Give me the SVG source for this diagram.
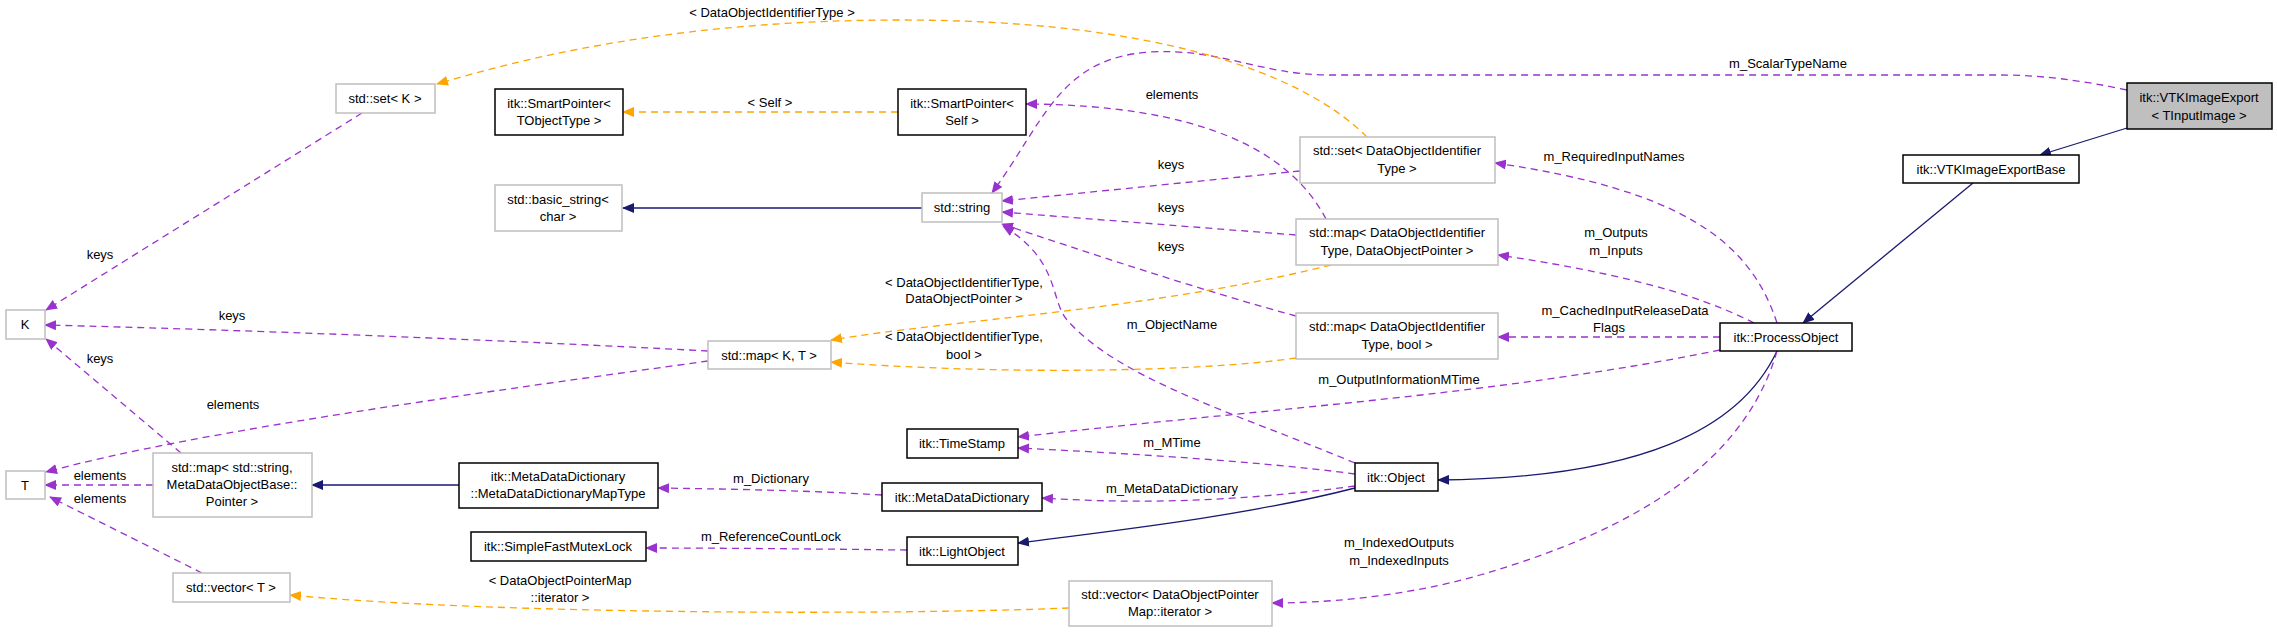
<svg xmlns="http://www.w3.org/2000/svg" width="2277" height="632" viewBox="0 0 2277 632">
<style>
text{font-family:"Liberation Sans",Arial,sans-serif;font-size:13px;fill:#000;text-anchor:middle}
.n rect{fill:#fff;stroke:#000;stroke-width:1.5}
.g rect{fill:#fff;stroke:#bfbfbf;stroke-width:1.5}
.s path{fill:none;stroke:#191970;stroke-width:1.3}
.p path{fill:none;stroke:#9a32cd;stroke-width:1.3;stroke-dasharray:7,5}
.o path{fill:none;stroke:#ffa500;stroke-width:1.3;stroke-dasharray:7,5}
</style>
<defs>
<marker id="as" markerWidth="12" markerHeight="10" refX="11" refY="5" orient="auto" markerUnits="userSpaceOnUse"><path d="M0,0 L12,5 L0,10 z" fill="#191970"/></marker>
<marker id="ap" markerWidth="12" markerHeight="10" refX="11" refY="5" orient="auto" markerUnits="userSpaceOnUse"><path d="M0,0 L12,5 L0,10 z" fill="#9a32cd"/></marker>
<marker id="ao" markerWidth="12" markerHeight="10" refX="11" refY="5" orient="auto" markerUnits="userSpaceOnUse"><path d="M0,0 L12,5 L0,10 z" fill="#ffa500"/></marker>
</defs>
<g id="edges">
<g class="s">
<path d="M2127,128 L2040,155" marker-end="url(#as)"/>
<path d="M1973,183 L1803,323" marker-end="url(#as)"/>
<path d="M1777,351 C1740,430 1640,478 1438,480" marker-end="url(#as)"/>
<path d="M1355,488 C1250,515 1120,530 1018,543" marker-end="url(#as)"/>
<path d="M459,485 L312,485" marker-end="url(#as)"/>
<path d="M922,208 L623,208" marker-end="url(#as)"/>
</g>
<g class="p">
<path d="M2127,90 C2080,80 2040,75 2000,75 L1330,75 C1260,75 1220,48 1150,52 C1060,58 1045,120 992,193" marker-end="url(#ap)"/>
<path d="M1300,171 L1002,201" marker-end="url(#ap)"/>
<path d="M1296,235 L1002,212" marker-end="url(#ap)"/>
<path d="M1296,316 C1200,290 1080,250 1002,224" marker-end="url(#ap)"/>
<path d="M1355,463 C1240,415 1120,380 1067,320 C1050,300 1060,260 1003,226" marker-end="url(#ap)"/>
<path d="M1326,219 C1290,150 1200,105 1026,104" marker-end="url(#ap)"/>
<path d="M1777,323 C1750,240 1680,190 1495,163" marker-end="url(#ap)"/>
<path d="M1754,323 C1690,290 1600,270 1498,255" marker-end="url(#ap)"/>
<path d="M1720,337 L1498,337" marker-end="url(#ap)"/>
<path d="M1720,350 C1500,395 1250,410 1018,437" marker-end="url(#ap)"/>
<path d="M1777,351 C1740,480 1600,540 1480,575 C1400,598 1320,603 1272,603" marker-end="url(#ap)"/>
<path d="M1355,474 C1250,460 1100,452 1018,448" marker-end="url(#ap)"/>
<path d="M1355,486 C1250,500 1150,505 1042,498" marker-end="url(#ap)"/>
<path d="M882,495 C800,490 720,489 658,488" marker-end="url(#ap)"/>
<path d="M907,550 C820,549 720,548 646,548" marker-end="url(#ap)"/>
<path d="M362,113 L46,310" marker-end="url(#ap)"/>
<path d="M708,351 C500,340 250,330 45,325" marker-end="url(#ap)"/>
<path d="M708,361 C500,390 200,430 46,472" marker-end="url(#ap)"/>
<path d="M181,453 L46,339" marker-end="url(#ap)"/>
<path d="M153,485 L45,485" marker-end="url(#ap)"/>
<path d="M202,573 L50,497" marker-end="url(#ap)"/>
</g>
<g class="o">
<path d="M1367,137 C1300,70 1150,20 900,20 C700,20 550,50 437,84" marker-end="url(#ao)"/>
<path d="M898,112 L623,112" marker-end="url(#ao)"/>
<path d="M1331,265 C1150,310 950,320 831,340" marker-end="url(#ao)"/>
<path d="M1296,358 C1200,372 1000,375 831,362" marker-end="url(#ao)"/>
<path d="M1069,608 C900,615 500,615 290,595" marker-end="url(#ao)"/>
</g>
<g id="labels">
<text x="772" y="17">&lt; DataObjectIdentifierType &gt;</text>
<text x="1788" y="68">m_ScalarTypeName</text>
<text x="770" y="107">&lt; Self &gt;</text>
<text x="1172" y="99">elements</text>
<text x="1171" y="169">keys</text>
<text x="1171" y="212">keys</text>
<text x="1171" y="251">keys</text>
<text x="1614" y="161">m_RequiredInputNames</text>
<text x="1616" y="237">m_Outputs</text>
<text x="1616" y="255">m_Inputs</text>
<text x="1625" y="315">m_CachedInputReleaseData</text>
<text x="1609" y="332">Flags</text>
<text x="964" y="287">&lt; DataObjectIdentifierType,</text>
<text x="964" y="303">DataObjectPointer &gt;</text>
<text x="964" y="341">&lt; DataObjectIdentifierType,</text>
<text x="964" y="359">bool &gt;</text>
<text x="1172" y="329">m_ObjectName</text>
<text x="1399" y="384">m_OutputInformationMTime</text>
<text x="1172" y="447">m_MTime</text>
<text x="1172" y="493">m_MetaDataDictionary</text>
<text x="771" y="483">m_Dictionary</text>
<text x="771" y="541">m_ReferenceCountLock</text>
<text x="1399" y="547">m_IndexedOutputs</text>
<text x="1399" y="565">m_IndexedInputs</text>
<text x="560" y="585">&lt; DataObjectPointerMap</text>
<text x="560" y="602">::iterator &gt;</text>
<text x="100" y="259">keys</text>
<text x="232" y="320">keys</text>
<text x="100" y="363">keys</text>
<text x="233" y="409">elements</text>
<text x="100" y="480">elements</text>
<text x="100" y="503">elements</text>
</g>
</g>
<g id="VTKImageExport"><rect x="2127" y="83" width="145" height="46" fill="#bfbfbf" stroke="#000" stroke-width="1.5"/><text x="2199" y="102">itk::VTKImageExport</text><text x="2199" y="120">&lt; TInputImage &gt;</text></g>
<g id="VTKImageExportBase" class="n"><rect x="1903" y="155" width="176" height="28"/><text x="1991" y="174">itk::VTKImageExportBase</text></g>
<g id="ProcessObject" class="n"><rect x="1720" y="323" width="132" height="28"/><text x="1786" y="342">itk::ProcessObject</text></g>
<g id="setK" class="g"><rect x="336" y="84" width="99" height="29"/><text x="385" y="103">std::set&lt; K &gt;</text></g>
<g id="SmartPointerTObjectType" class="n"><rect x="495" y="89" width="128" height="46"/><text x="559" y="108">itk::SmartPointer&lt;</text><text x="559" y="125">TObjectType &gt;</text></g>
<g id="basic_string" class="g"><rect x="495" y="185" width="127" height="46"/><text x="558" y="204">std::basic_string&lt;</text><text x="558" y="221">char &gt;</text></g>
<g id="K" class="g"><rect x="6" y="310" width="39" height="29"/><text x="25" y="329">K</text></g>
<g id="mapKT" class="g"><rect x="708" y="341" width="123" height="28"/><text x="769" y="360">std::map&lt; K, T &gt;</text></g>
<g id="T" class="g"><rect x="6" y="471" width="39" height="28"/><text x="25" y="490">T</text></g>
<g id="mapString" class="g"><rect x="153" y="453" width="159" height="64"/><text x="232" y="472">std::map&lt; std::string,</text><text x="232" y="489">MetaDataObjectBase::</text><text x="232" y="506">Pointer &gt;</text></g>
<g id="MapType" class="n"><rect x="459" y="463" width="199" height="45"/><text x="558" y="481">itk::MetaDataDictionary</text><text x="558" y="498">::MetaDataDictionaryMapType</text></g>
<g id="Mutex" class="n"><rect x="471" y="532" width="175" height="29"/><text x="558" y="551">itk::SimpleFastMutexLock</text></g>
<g id="vectorT" class="g"><rect x="173" y="573" width="117" height="29"/><text x="231" y="592">std::vector&lt; T &gt;</text></g>
<g id="SmartPointerSelf" class="n"><rect x="898" y="89" width="128" height="46"/><text x="962" y="108">itk::SmartPointer&lt;</text><text x="962" y="125">Self &gt;</text></g>
<g id="string" class="g"><rect x="922" y="193" width="80" height="29"/><text x="962" y="212">std::string</text></g>
<g id="setDOIT" class="g"><rect x="1300" y="137" width="195" height="46"/><text x="1397" y="155">std::set&lt; DataObjectIdentifier</text><text x="1397" y="173">Type &gt;</text></g>
<g id="mapDOP" class="g"><rect x="1296" y="219" width="202" height="46"/><text x="1397" y="237">std::map&lt; DataObjectIdentifier</text><text x="1397" y="255">Type, DataObjectPointer &gt;</text></g>
<g id="mapBool" class="g"><rect x="1296" y="313" width="202" height="46"/><text x="1397" y="331">std::map&lt; DataObjectIdentifier</text><text x="1397" y="349">Type, bool &gt;</text></g>
<g id="TimeStamp" class="n"><rect x="907" y="429" width="111" height="29"/><text x="962" y="448">itk::TimeStamp</text></g>
<g id="Object" class="n"><rect x="1355" y="463" width="83" height="28"/><text x="1396" y="482">itk::Object</text></g>
<g id="MetaDataDictionary" class="n"><rect x="882" y="483" width="160" height="28"/><text x="962" y="502">itk::MetaDataDictionary</text></g>
<g id="LightObject" class="n"><rect x="907" y="537" width="111" height="28"/><text x="962" y="556">itk::LightObject</text></g>
<g id="vectorDOP" class="g"><rect x="1069" y="581" width="203" height="45"/><text x="1170" y="599">std::vector&lt; DataObjectPointer</text><text x="1170" y="616">Map::iterator &gt;</text></g>
</svg>
